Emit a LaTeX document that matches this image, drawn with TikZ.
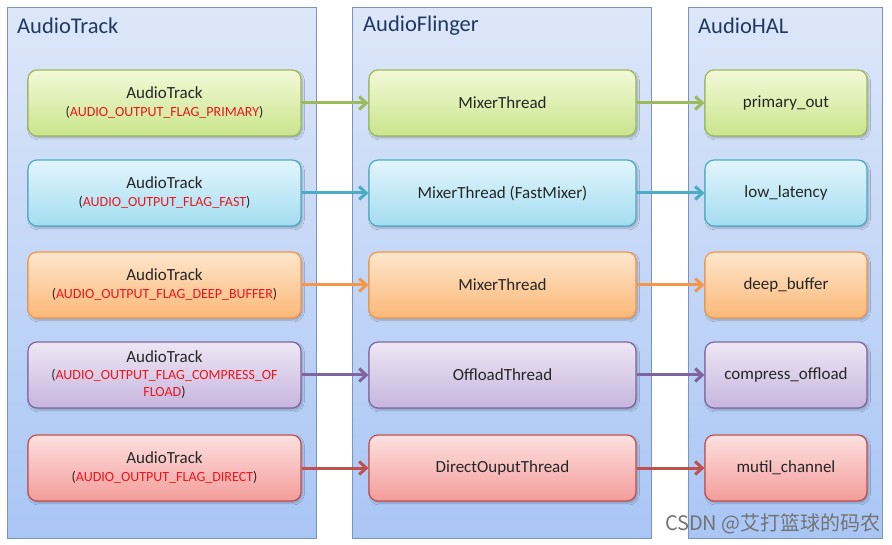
\documentclass[tikz,border=0pt]{standalone}
\usepackage{fontspec}
\setmainfont{Carlito}
\newfontfamily\cjk{Noto Sans CJK SC}
\usetikzlibrary{arrows.meta,shadows.blur}
\definecolor{colTop}{HTML}{DDE7F9}
\definecolor{colBot}{HTML}{A9C6F5}
\definecolor{colBorder}{HTML}{7A94C0}
\definecolor{titleC}{HTML}{1F3864}
\definecolor{txt}{HTML}{262626}
\definecolor{flagC}{HTML}{F0141B}
\definecolor{gT}{HTML}{F3F9D8}\definecolor{gB}{HTML}{C9E58C}\definecolor{gD}{HTML}{9BBB59}
\definecolor{cT}{HTML}{E3F5FC}\definecolor{cB}{HTML}{A3DDF1}\definecolor{cD}{HTML}{4BACC6}
\definecolor{oT}{HTML}{FDE6CC}\definecolor{oB}{HTML}{FBB878}\definecolor{oD}{HTML}{F79646}
\definecolor{pT}{HTML}{EEE7F5}\definecolor{pB}{HTML}{C7B5DD}\definecolor{pD}{HTML}{8064A2}
\definecolor{rT}{HTML}{FCE1E0}\definecolor{rB}{HTML}{F39C9A}\definecolor{rD}{HTML}{C0504D}
\tikzset{
  column/.style={draw=colBorder, line width=0.8pt, top color=colTop, bottom color=colBot,
    minimum height=531pt, anchor=north west, inner sep=0pt},
  coltitle/.style={anchor=west, font=\fontsize{22.5}{26}\selectfont, text=titleC, inner sep=0pt},
  box/.style={rounded corners=9pt, line width=1.2pt, minimum height=66pt, inner sep=2pt,
    align=center, text=txt, font=\fontsize{17}{20}\selectfont,
    blur shadow={shadow xshift=1.5pt, shadow yshift=-2pt, shadow blur steps=5, shadow opacity=25}},
  lbox/.style={box, minimum width=273pt, text width=265pt},
  mbox/.style={box, minimum width=267pt},
  rbox/.style={box, minimum width=162pt},
  green/.style={draw=gD, top color=gT, bottom color=gB},
  cyan/.style={draw=cD, top color=cT, bottom color=cB},
  orange/.style={draw=oD, top color=oT, bottom color=oB},
  purple/.style={draw=pD, top color=pT, bottom color=pB},
  red/.style={draw=rD, top color=rT, bottom color=rB},
  conn/.style={line width=3pt, -{Straight Barb[length=7pt,width=13pt,line width=3pt]}}
}
\newcommand{\flagsize}{\fontsize{14}{16.5}\selectfont}
\begin{document}
\begin{tikzpicture}[x=1pt,y=-1pt]
\useasboundingbox (0,0) rectangle (892,545);
\fill[white] (0,0) rectangle (892,545);
% columns
\node[column, minimum width=309pt] (c1) at (7,7) {};
\node[column, minimum width=299pt] (c2) at (352,7) {};
\node[column, minimum width=194pt] (c3) at (688,7) {};
\node[coltitle] (t1) at (17,26) {AudioTrack};
\node[coltitle] (t2) at (363,26) {AudioFlinger};
\node[coltitle] (t3) at (698,26) {AudioHAL};
% row 1
\node[lbox, green] (a1) at (164.5,103) {AudioTrack\\[-2pt]{\flagsize(\textcolor{flagC}{AUDIO\_OUTPUT\_FLAG\_PRIMARY})}};
\node[mbox, green] (b1) at (502.5,103) {MixerThread};
\node[rbox, green] (h1) at (786,103) {primary\_out};
% row 2
\node[lbox, cyan] (a2) at (164.5,193) {AudioTrack\\[-2pt]{\flagsize(\textcolor{flagC}{AUDIO\_OUTPUT\_FLAG\_FAST})}};
\node[mbox, cyan] (b2) at (502.5,193) {MixerThread (FastMixer)};
\node[rbox, cyan] (h2) at (786,193) {low\_latency};
% row 3
\node[lbox, orange] (a3) at (164.5,285) {AudioTrack\\[-2pt]{\flagsize(\textcolor{flagC}{AUDIO\_OUTPUT\_FLAG\_DEEP\_BUFFER})}};
\node[mbox, orange] (b3) at (502.5,285) {MixerThread};
\node[rbox, orange] (h3) at (786,285) {deep\_buffer};
% row 4
\node[lbox, purple] (a4) at (164.5,375) {AudioTrack\\[-3pt]{\flagsize(\textcolor{flagC}{AUDIO\_OUTPUT\_FLAG\_COMPRESS\_OF}}\\[-3pt]{\flagsize\textcolor{flagC}{FLOAD})}};
\node[mbox, purple] (b4) at (502.5,375) {OffloadThread};
\node[rbox, purple] (h4) at (786,375) {compress\_offload};
% row 5
\node[lbox, red] (a5) at (164.5,468) {AudioTrack\\[-2pt]{\flagsize(\textcolor{flagC}{AUDIO\_OUTPUT\_FLAG\_DIRECT})}};
\node[mbox, red] (b5) at (502.5,468) {DirectOuputThread};
\node[rbox, red] (h5) at (786,468) {mutil\_channel};
% connectors
\draw[conn, draw=gD] (a1) -- (b1);
\draw[conn, draw=gD] (b1) -- (h1);
\draw[conn, draw=cD] (a2) -- (b2);
\draw[conn, draw=cD] (b2) -- (h2);
\draw[conn, draw=oD] (a3) -- (b3);
\draw[conn, draw=oD] (b3) -- (h3);
\draw[conn, draw=pD] (a4) -- (b4);
\draw[conn, draw=pD] (b4) -- (h4);
\draw[conn, draw=rD] (a5) -- (b5);
\draw[conn, draw=rD] (b5) -- (h5);
% watermark
\node[anchor=east, text=black!55, font=\cjk\fontsize{20}{22}\selectfont, inner sep=0pt] (wm) at (881,524) {CSDN @艾打篮球的码农};
\end{tikzpicture}
\end{document}
